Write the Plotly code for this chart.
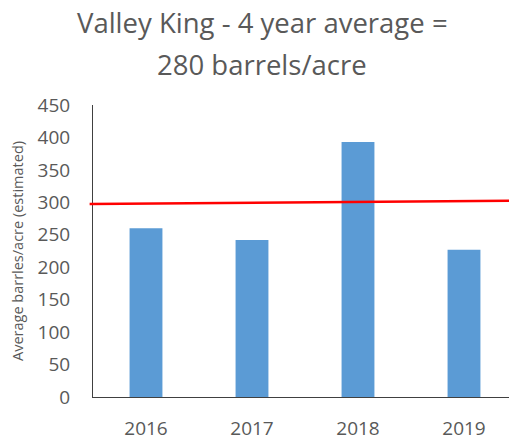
import plotly.graph_objects as go

years = ["2016", "2017", "2018", "2019"]
yields = [260, 242, 393, 227]
avg_line_start = 297.5
avg_line_end = 302.5
y_ticks = [0, 50, 100, 150, 200, 250, 300, 350, 400, 450]
title_lines = ["Valley King - 4 year average =", "280 barrels/acre"]

font_family = "Open Sans, Noto Sans, sans-serif"
grey = "#595959"

fig = go.Figure()
fig.add_trace(go.Bar(x=years, y=yields, marker_color="#5B9BD5", marker_line_width=0))

fig.add_shape(type="line", xref="paper", yref="y", x0=-0.008, x1=1.0,
              y0=avg_line_start, y1=avg_line_end,
              line=dict(color="#FF0000", width=2.5))

# Title as two annotation lines (custom line spacing)
for txt, ypos in zip(title_lines, [1.283, 1.14]):
    fig.add_annotation(text=txt, xref="paper", yref="paper", x=0.3986, y=ypos,
                       xanchor="center", yanchor="middle", showarrow=False,
                       font=dict(family=font_family, size=27.5, color=grey))

fig.update_layout(
    width=509, height=430,
    margin=dict(l=85, r=0, t=97, b=41, autoexpand=False),
    paper_bgcolor="white", plot_bgcolor="white",
    bargap=0.69,
    showlegend=False,
    font=dict(family=font_family, color=grey),
)
fig.update_yaxes(range=[0, 450], tickvals=y_ticks, showgrid=False, zeroline=False,
                 automargin=False,
                 showline=True, linecolor="#404040", linewidth=1,
                 ticks="", tickfont=dict(size=19, color=grey),
                 ticklabelstandoff=18,
                 title=dict(text="Average barrles/acre (estimated)",
                            font=dict(size=14.5, color=grey), standoff=18))
fig.update_xaxes(showgrid=False, showline=True, linecolor="#404040", linewidth=1,
                 automargin=False,
                 ticks="", tickfont=dict(size=19, color=grey),
                 ticklabelstandoff=14)

fig.write_html("out.html")
